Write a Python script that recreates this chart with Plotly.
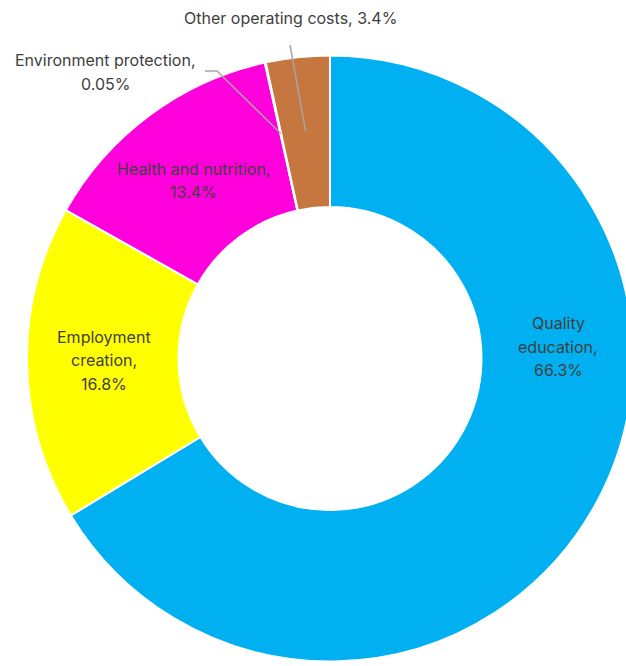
import math
import plotly.graph_objects as go

categories = ["Quality education", "Employment creation", "Health and nutrition",
              "Environment protection", "Other operating costs"]
values = [66.3, 16.8, 13.4, 0.05, 3.4]
value_labels = ["66.3%", "16.8%", "13.4%", "0.05%", "3.4%"]
colors = ["#00B0F0", "#FFFF00", "#FF00DC", "#FFFFFF", "#C5773F"]

W, H = 640, 666
OFF = 0.0
R = 303.0
CX, CY = 330.0 - OFF, 358.5 - OFF
LINE_H = 23.5

def px(x, y):
    # reference-pixel -> paper coordinates
    return (x - OFF) / W, 1 - (y - OFF) / H

fig = go.Figure(go.Pie(
    labels=categories, values=values, sort=False, direction="clockwise",
    rotation=0, hole=0.5, textinfo="none", hoverinfo="label+percent",
    marker=dict(colors=colors, line=dict(color="white", width=2)),
    domain=dict(x=[(CX - R) / W, min(1.0, (CX + R) / W)],
                y=[1 - (CY + R) / H, 1 - (CY - R) / H]),
    showlegend=False,
))

font = dict(family="Inter, Noto Sans, sans-serif", size=16, color="#404040")

label_lines = [
    ["Quality", "education,", value_labels[0]],
    ["Employment", "creation,", value_labels[1]],
    ["Health and nutrition,", value_labels[2]],
    ["Environment protection,", value_labels[3]],
    ["Other operating costs, " + value_labels[4]],
]
label_pos = [(558, 346.5), (104, 360), (193, 180.5), (105, 72), (290, 18)]

annotations = []
for lines, (x, y) in zip(label_lines, label_pos):
    n = len(lines)
    for k, t in enumerate(lines):
        yy = y + (k - (n - 1) / 2) * LINE_H
        ax, ay = px(x, yy)
        annotations.append(dict(x=ax, y=ay, xref="paper", yref="paper", text=t, showarrow=False,
                                xanchor="center", yanchor="middle", font=font, align="center"))

# leader lines to mid-angle of the small slices
total = sum(values)
cum = 0.0
mids = []
for v in values:
    mids.append((cum + v / 2) / total * 2 * math.pi)
    cum += v

def slice_point(i, frac):
    a = mids[i]
    x = CX + frac * R * math.sin(a)
    y = CY - frac * R * math.cos(a)
    return x / W, 1 - y / H

shapes = []
e = slice_point(3, 0.76)
p0, p1 = px(205, 71), px(217, 71)
shapes.append(dict(type="path", xref="paper", yref="paper",
                   path="M %f,%f L %f,%f L %f,%f" % (p0[0], p0[1], p1[0], p1[1], e[0], e[1]),
                   line=dict(color="#A6A6A6", width=1.5)))
e = slice_point(4, 0.755)
p0 = px(290, 45)
shapes.append(dict(type="line", xref="paper", yref="paper",
                   x0=p0[0], y0=p0[1], x1=e[0], y1=e[1],
                   line=dict(color="#A6A6A6", width=1.5)))

fig.update_layout(width=W, height=H, margin=dict(l=0, r=0, t=0, b=0),
                  paper_bgcolor="white", plot_bgcolor="white",
                  annotations=annotations, shapes=shapes)

fig.write_html("out.html", config={"displayModeBar": False},
               post_script="document.body.style.margin='0';"
                           "document.documentElement.style.overflow='hidden';"
                           "document.body.style.overflow='hidden';")
